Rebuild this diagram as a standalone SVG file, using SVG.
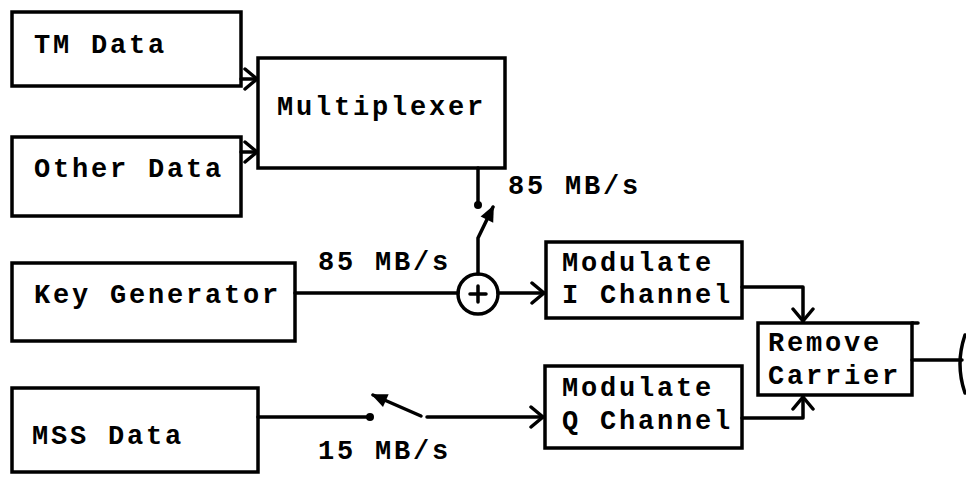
<svg xmlns="http://www.w3.org/2000/svg" width="966" height="483" viewBox="0 0 966 483">
<style>
.box{fill:none;stroke:#000;stroke-width:3.5;stroke-linejoin:miter}
.ln{fill:none;stroke:#000;stroke-width:3.5;stroke-linecap:round;stroke-linejoin:round}
.t{font-family:"Liberation Mono","Courier New",monospace;font-weight:bold;font-size:27px;letter-spacing:2.8px;fill:#000}
</style>
<defs>
<marker id="v" markerUnits="userSpaceOnUse" markerWidth="20" markerHeight="24" refX="16" refY="12" orient="auto">
<path d="M4 2 L16 12 L4 22" fill="none" stroke="#000" stroke-width="3.5" stroke-linecap="round" stroke-linejoin="round"/>
</marker>
<marker id="f" markerUnits="userSpaceOnUse" markerWidth="20" markerHeight="20" refX="16" refY="10" orient="auto">
<path d="M2 3 L18 10 L2 17 Z" fill="#000"/>
</marker>
</defs>
<rect width="966" height="483" fill="#fff"/>
<g id="tm-data"><rect class="box" x="12" y="12" width="229" height="74"/><text class="t" x="34" y="53">TM Data</text></g>
<g id="other-data"><rect class="box" x="12" y="137" width="229" height="79"/><text class="t" x="34" y="177">Other Data</text></g>
<g id="multiplexer"><rect class="box" x="258" y="58" width="247" height="110"/><text class="t" x="277" y="115">Multiplexer</text></g>
<g id="key-generator"><rect class="box" x="12" y="263" width="283" height="78"/><text class="t" x="34" y="303">Key Generator</text></g>
<g id="mss-data"><rect class="box" x="12" y="388" width="246" height="84"/><text class="t" x="32" y="444">MSS Data</text></g>
<g id="xor"><circle class="ln" cx="478" cy="294" r="20"/><path class="ln" d="M478 286 V302 M470 294 H486" stroke-width="3"/></g>
<g id="modulate-i"><rect class="box" x="546" y="242" width="196" height="76"/><text class="t" x="562" y="271">Modulate</text><text class="t" x="562" y="303">I Channel</text></g>
<g id="modulate-q"><rect class="box" x="545" y="366" width="197" height="82"/><text class="t" x="562" y="396">Modulate</text><text class="t" x="562" y="429">Q Channel</text></g>
<g id="remove-carrier"><rect class="box" x="758" y="323" width="154" height="72"/><path class="ln" d="M912 323 H918"/><text class="t" x="768" y="351">Remove</text><text class="t" x="768" y="384">Carrier</text></g>
<g id="output"><path class="ln" d="M965 335 Q955 364 965 393"/></g>
<g id="connectors">
<path class="ln" d="M241 79 H257" marker-end="url(#v)"/>
<path class="ln" d="M241 152 H257" marker-end="url(#v)"/>
<path class="ln" d="M478 168 V204"/>
<circle cx="478" cy="205" r="4"/>
<path class="ln" d="M478 274 V238 L493 207" marker-end="url(#f)"/>
<path class="ln" d="M295 293 H458"/>
<path class="ln" d="M498 293 H544" marker-end="url(#v)"/>
<path class="ln" d="M258 417 H369"/>
<circle cx="370" cy="417" r="4"/>
<path class="ln" d="M421 416 L373 395" marker-end="url(#f)"/>
<path class="ln" d="M427 417 H543" marker-end="url(#v)"/>
<path class="ln" d="M742 287 H803 V321" marker-end="url(#v)"/>
<path class="ln" d="M742 418 H803 V397" marker-end="url(#v)"/>
<path class="ln" d="M912 360 H962"/>
</g>
<g id="labels">
<text class="t" x="508" y="194">85 MB/s</text>
<text class="t" x="318" y="270">85 MB/s</text>
<text class="t" x="318" y="459">15 MB/s</text>
</g>
</svg>
